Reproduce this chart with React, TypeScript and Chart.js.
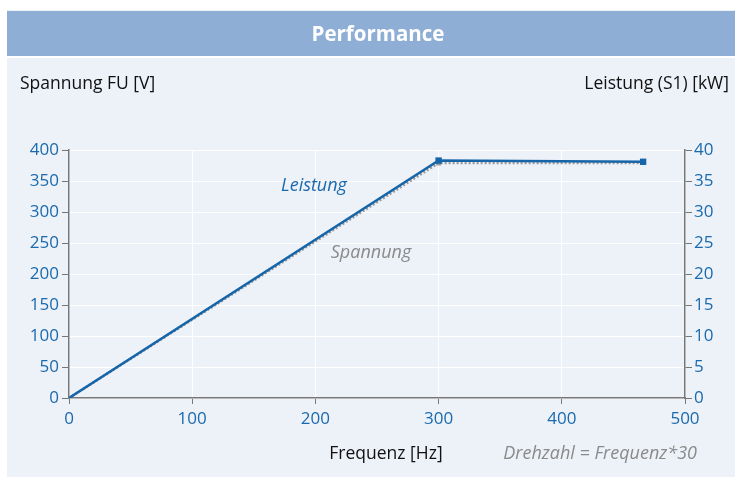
import React, { useEffect, useRef } from "react";
import { Chart, registerables } from "chart.js";

Chart.register(...registerables);

const frequencies = [0, 300, 466];
const voltage = [0, 379, 379];
const power = [0, 38.3, 38.1];
const xTicks = [0, 100, 200, 300, 400, 500];

const BLUE = "#1565a8";
const TICK_BLUE = "#1a6aad";
const FONT = "'Open Sans', 'Noto Sans', sans-serif";

const decorPlugin = {
  id: "decor",
  beforeDraw(chart: any) {
    const ctx = chart.ctx;
    ctx.save();
    ctx.fillStyle = "#ffffff";
    ctx.fillRect(0, 0, chart.width, chart.height);
    ctx.fillStyle = "#edf1f8";
    ctx.fillRect(7, 10, 728, 467);
    ctx.fillStyle = "#8eaed6";
    ctx.fillRect(7, 11, 728, 45);
    ctx.fillStyle = "#ffffff";
    ctx.fillRect(7, 56, 728, 2);
    ctx.restore();
  },
  afterDraw(chart: any) {
    const ctx = chart.ctx;
    ctx.save();
    ctx.textBaseline = "middle";
    ctx.fillStyle = "#ffffff";
    ctx.textAlign = "center";
    ctx.font = `bold 20.5px ${FONT}`;
    ctx.fillText("Performance", 378, 35);

    ctx.fillStyle = "#111111";
    ctx.font = `17.5px ${FONT}`;
    ctx.textAlign = "left";
    ctx.fillText("Spannung FU [V]", 20, 84);
    ctx.textAlign = "right";
    ctx.fillText("Leistung (S1) [kW]", 729, 84);
    ctx.textAlign = "center";
    ctx.fillText("Frequenz [Hz]", 386, 454);

    ctx.font = `italic 18px ${FONT}`;
    ctx.fillStyle = "#8a8a8a";
    ctx.textAlign = "right";
    ctx.fillText("Drehzahl = Frequenz*30", 697, 454);
    ctx.textAlign = "center";
    ctx.fillText("Spannung", 371, 253);
    ctx.fillStyle = TICK_BLUE;
    ctx.fillText("Leistung", 314, 186);
    ctx.restore();
  },
};

export default function App() {
  const ref = useRef<HTMLCanvasElement>(null);
  useEffect(() => {
    if (!ref.current) return;
    const chart = new Chart(ref.current, {
      type: "line",
      data: {
        datasets: [
          {
            label: "Spannung",
            data: frequencies.map((f, i) => ({ x: f, y: voltage[i] })),
            yAxisID: "y",
            borderColor: "#9a9a9a",
            borderWidth: 2.5,
            borderDash: [2, 2],
            pointStyle: "rect",
            pointRadius: [0, 3.5, 0],
            pointBackgroundColor: "#9a9a9a",
            pointBorderWidth: 0,
            order: 2,
          },
          {
            label: "Leistung",
            data: frequencies.map((f, i) => ({ x: f, y: power[i] })),
            yAxisID: "y1",
            borderColor: BLUE,
            borderWidth: 2.5,
            pointStyle: "rect",
            pointRadius: [0, 4.5, 4.5],
            pointBackgroundColor: BLUE,
            pointBorderWidth: 0,
            order: 1,
          },
        ],
      },
      options: {
        animation: false,
        responsive: false,
        layout: { padding: { left: 0, right: 0, top: 150, bottom: 49 } },
        plugins: { legend: { display: false }, tooltip: { enabled: false }, title: { display: false } },
        scales: {
          x: {
            type: "linear",
            min: 0,
            max: 500,
            afterBuildTicks: (s: any) => { s.ticks = xTicks.map((v) => ({ value: v })); },
            afterFit: (s: any) => { s.height = 30; },
            grid: { color: "rgba(255,255,255,0.9)", lineWidth: 1, tickColor: "#777777", tickLength: 6 },
            border: { color: "#777777", width: 1.5 },
            ticks: { color: TICK_BLUE, font: { family: FONT, size: 17 }, padding: 5 },
          },
          y: {
            position: "left",
            min: 0,
            max: 400,
            afterFit: (s: any) => { s.width = 69; },
            grid: { color: "rgba(255,255,255,0.9)", lineWidth: 1, tickColor: "#777777", tickLength: 7 },
            border: { color: "#777777", width: 1.5 },
            ticks: { stepSize: 50, color: TICK_BLUE, font: { family: FONT, size: 17 }, padding: 3 },
          },
          y1: {
            position: "right",
            min: 0,
            max: 40,
            afterFit: (s: any) => { s.width = 56; },
            grid: { drawOnChartArea: false, tickColor: "#777777", tickLength: 7 },
            border: { color: "#777777", width: 1.5 },
            ticks: { stepSize: 5, color: TICK_BLUE, font: { family: FONT, size: 17 }, padding: 2 },
          },
        },
      },
      plugins: [decorPlugin],
    } as any);
    return () => chart.destroy();
  }, []);
  return (
    <div style={{ position: "absolute", left: 0, top: 0, width: 741, height: 477 }}>
      <canvas ref={ref} width={741} height={477} style={{ display: "block" }} />
    </div>
  );
}
